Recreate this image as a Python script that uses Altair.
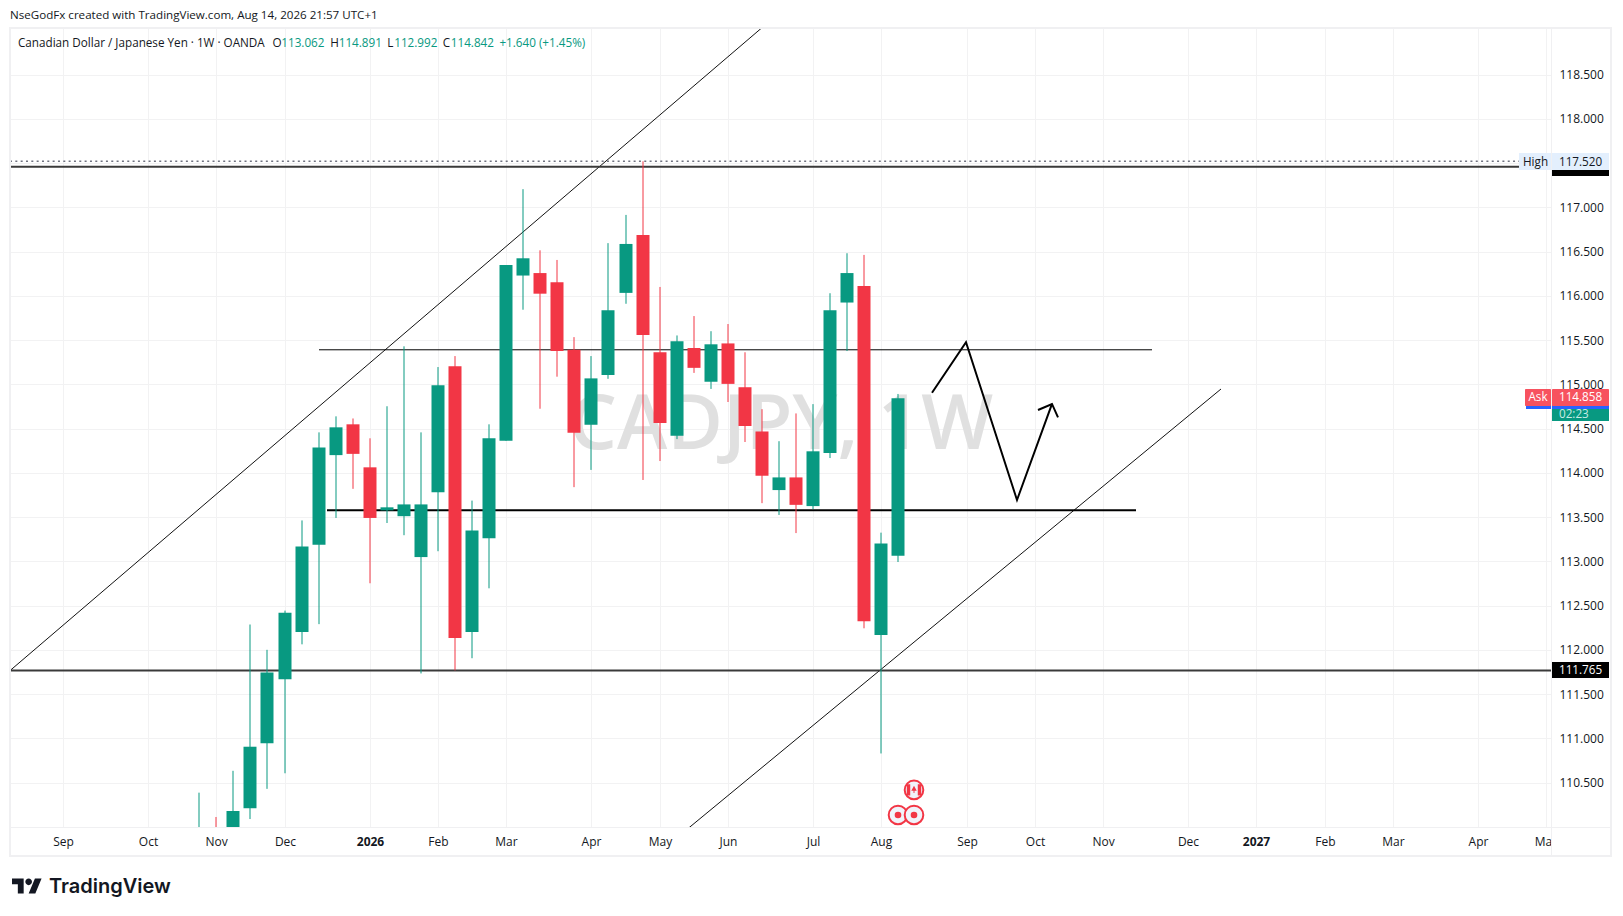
import altair as alt
import pandas as pd

# --- candles: week index (0 = first week of Aug 2026), open, high, low, close
WEEKS = list(range(-40, 2))
OPENS = [109.70, 109.95, 109.60, 110.210, 110.943, 111.667, 112.200, 113.186, 114.200, 114.548, 114.062, 113.576,
         113.510, 113.048, 113.781, 115.205, 112.200, 113.262, 114.362, 116.229, 116.257, 116.152, 115.390, 114.543,
         115.105, 116.033, 116.686, 115.362, 114.419, 115.410, 115.029, 115.462, 114.967, 114.467, 113.805, 113.948,
         113.624, 114.224, 115.924, 116.110, 112.167, 113.062]
HIGHS = [110.386, 110.111, 110.633, 112.286, 112.000, 112.443, 113.462, 114.457, 114.638, 114.614, 114.390, 114.752,
         115.429, 114.457, 115.195, 115.319, 113.686, 114.548, 116.348, 117.205, 116.514, 116.405, 115.533, 115.319,
         116.595, 116.914, 117.520, 116.100, 115.552, 115.771, 115.600, 115.681, 115.362, 114.719, 114.357, 114.671,
         114.776, 116.029, 116.481, 116.462, 113.324, 114.891]
LOWS = [109.50, 109.50, 109.50, 110.088, 110.429, 110.605, 112.062, 112.290, 113.490, 113.819, 112.752, 113.433,
        113.295, 111.733, 113.114, 111.767, 111.905, 112.695, 114.362, 115.843, 114.724, 115.086, 113.838, 114.033,
        115.062, 115.910, 113.919, 114.133, 114.381, 115.129, 114.948, 114.800, 114.348, 113.657, 113.524, 113.319,
        113.590, 114.167, 115.376, 112.243, 110.829, 112.992]
CLOSES = [109.85, 109.70, 110.179, 110.905, 111.743, 112.419, 113.167, 114.286, 114.514, 114.214, 113.490, 113.610,
          113.643, 113.643, 114.990, 112.133, 113.348, 114.390, 116.348, 116.424, 116.024, 115.376, 114.452, 115.067,
          115.838, 116.586, 115.557, 114.562, 115.486, 115.186, 115.452, 115.005, 114.529, 113.967, 113.948, 113.638,
          114.243, 115.838, 116.257, 112.324, 113.200, 114.842]

# --- axes
TICK_WEEKS = [-48, -43, -39, -35, -30, -26, -22, -17, -13, -9, -4, 0, 5, 9, 13, 18, 22, 26, 30, 35, 39]
TICK_LABELS = ["Sep", "Oct", "Nov", "Dec", "2026", "Feb", "Mar", "Apr", "May", "Jun", "Jul", "Aug", "Sep", "Oct",
               "Nov", "Dec", "2027", "Feb", "Mar", "Apr", "May"]
PRICE_TICKS = [110.5, 111.0, 111.5, 112.0, 112.5, 113.0, 113.5, 114.0, 114.5, 115.0, 115.5, 116.0, 116.5, 117.0,
               117.5, 118.0, 118.5]

# --- drawings (week index, price)
UPPER_TREND_W, UPPER_TREND_P = [-51.1, -7.0], [111.765, 119.03]
LOWER_TREND_W, LOWER_TREND_P = [-11.3, 19.92], [109.99, 114.947]
RES_W, RES_P = [-32.95, 15.9], [115.39, 115.39]
MID_W, MID_P = [-32.5, 14.95], [113.576, 113.576]
SUP_W, SUP_P = [-51.1, 39.28], [111.765, 111.765]
TOP_W, TOP_P = [-51.1, 37.4], [117.457, 117.457]
HIGH_W, HIGH_P = [-51.1, 37.4], [117.52, 117.52]
PATH_W = [2.97, 4.95, 7.96, 10.01]
PATH_P = [114.905, 115.475, 113.693, 114.778]
HEAD_W = [9.21, 10.01, 10.38]
HEAD_P = [114.71, 114.778, 114.627]
EVENT_W = [1.0, 1.94]
EVENT_P = [110.134, 110.134]
FLAG_W, FLAG_P = [1.94], [110.417]

GREEN, RED = "#089981", "#f23645"
INK = "#131722"
FONT = "Open Sans"
W, H = 1541, 799

xs = alt.Scale(domain=[-51.1, 39.28], nice=False, zero=False, round=True, padding=0)
ys = alt.Scale(domain=[109.998, 119.026], nice=False, zero=False)
label_expr = "{}[indexof({}, datum.value)]".format(TICK_LABELS, TICK_WEEKS)
x_axis = alt.Axis(values=TICK_WEEKS, labelExpr=label_expr, title=None, domain=False, ticks=False, labelPadding=9,
                  labelFontSize=12, labelColor=INK, labelFont=FONT, gridColor="#f2f2f3", gridWidth=1,
                  labelFontWeight={"condition": {"test": "datum.value == -30 || datum.value == 22", "value": "bold"},
                                   "value": "normal"},
                  labelOverlap=False, labelFlush=False)
y_axis = alt.Axis(values=PRICE_TICKS, orient="right", title=None, domain=False, ticks=False, labelPadding=8,
                  labelFontSize=12, labelColor=INK, labelFont=FONT, gridColor="#f2f2f3", gridWidth=1,
                  labelExpr="datum.value == 117.5 ? '' : format(datum.value, '.3f')", labelOverlap=False,
                  labelFlush=False)
X = alt.X("w:Q", scale=xs, axis=x_axis)
Y = alt.Y("p:Q", scale=ys, axis=y_axis)


def seg(ws, ps, color="#000000", width=1.0, dash=None, clip=True):
    d = pd.DataFrame({"w": ws, "p": ps, "o": range(len(ws))})
    kw = {"strokeDash": dash} if dash else {}
    return alt.Chart(d).mark_line(color=color, strokeWidth=width, clip=clip, interpolate="linear", **kw).encode(
        x=X, y=Y, order="o:Q")


def box(x0, x1, y0, y1, fill, corner=0):
    kw = {"cornerRadius": corner} if corner else {}
    return alt.Chart(alt.Data(values=[{}])).mark_rect(fill=fill, **kw).encode(
        x=alt.value(x0 - 10), x2=alt.value(x1 - 10), y=alt.value(y0 - 28), y2=alt.value(y1 - 28))


def txt(x, y, s, color=INK, size=11.7, weight="normal", font=FONT, align="left"):
    return alt.Chart(alt.Data(values=[{}])).mark_text(
        text=s, color=color, fontSize=size, fontWeight=weight, font=font, align=align, baseline="middle",
        clip=False).encode(x=alt.value(x - 10), y=alt.value(y - 28))


candles = pd.DataFrame({"w": WEEKS, "o": OPENS, "h": HIGHS, "l": LOWS, "c": CLOSES})
candles["color"] = [GREEN if c >= o else RED for o, c in zip(OPENS, CLOSES)]
color = alt.Color("color:N", scale=None, legend=None)
wicks = alt.Chart(candles).mark_rule(strokeWidth=1, clip=True).encode(
    x=X, y=alt.Y("h:Q", scale=ys, axis=y_axis), y2="l:Q", color=color)
bodies = alt.Chart(candles).mark_bar(size=13, clip=True).encode(
    x=X, y=alt.Y("o:Q", scale=ys, axis=y_axis), y2="c:Q", color=color)

watermark = txt(781, 426, "CADJPY, 1W", color="#e0e0e0", size=76, weight=600, align="center")

TV_PATH = ("M-.222 .5H-.611V-.111H-1V-.5H-.222Z M.556 .5H.111L.528 -.5H.972Z "
           "M-.111 -.278a.222 .222 0 1 0 .444 0a.222 .222 0 1 0 -.444 0Z")
logo = alt.Chart(alt.Data(values=[{}])).mark_point(shape=TV_PATH, size=900, filled=True, opacity=1, color=INK,
                                                   clip=False).encode(x=alt.value(27 - 10), y=alt.value(886 - 28))

events = pd.DataFrame({"w": EVENT_W, "p": EVENT_P})
flag = pd.DataFrame({"w": FLAG_W, "p": FLAG_P})
ring = alt.Chart(pd.concat([events, flag])).mark_point(shape="circle", size=346, filled=True, opacity=1,
                                                       fill="#f0f3fa", stroke=RED, strokeWidth=2, clip=False).encode(x=X, y=Y)
dots = alt.Chart(events).mark_point(shape="circle", size=44, filled=True, opacity=1, color=RED, clip=False).encode(x=X, y=Y)
FLAG_PATH = ("M-.8 -.62H-.42V.62H-.8Z M.42 -.62H.8V.62H.42Z M0 -.45L.3 .1L.05 .1V.35H-.05V.1L-.3 .1Z")
leaf = alt.Chart(flag).mark_point(shape=FLAG_PATH, size=324, filled=True, opacity=1, color=RED, clip=False).encode(x=X, y=Y)

layers = [
    watermark,
    seg(UPPER_TREND_W, UPPER_TREND_P, "#111111", 1.0),
    seg(LOWER_TREND_W, LOWER_TREND_P, "#111111", 1.0),
    seg(RES_W, RES_P, "#000000", 1.0),
    seg(MID_W, MID_P, "#000000", 2.0),
    seg(SUP_W, SUP_P, "#3a3a3a", 2.0),
    seg(TOP_W, TOP_P, "#3a3a3a", 2.0),
    seg(HIGH_W, HIGH_P, "#6f7280", 1.6, dash=[2, 3.33]),
    seg(PATH_W, PATH_P, "#000000", 2.0),
    seg(HEAD_W, HEAD_P, "#000000", 2.0),
    wicks, bodies, ring, dots, leaf,
    # x-axis label clip, frame and separators
    box(1551, 1611, 829, 855, "#ffffff"),
    box(1551, 1552, 28, 856, "#f0f0f2"),
    box(10, 1611, 827, 828, "#f0f0f2"),
    box(9, 11, 27, 857, "#f0f0f2"),
    box(9, 1612, 27, 29, "#f0f0f2"),
    box(1610, 1612, 27, 857, "#f0f0f2"),
    box(9, 1612, 855, 857, "#f0f0f2"),
    # price labels
    box(1552, 1609, 160, 176, "#000000"),
    box(1552, 1609, 153, 170, "#e3effd"),
    box(1519, 1551, 153, 170, "#e3effd"),
    txt(1523, 161.5, "High"),
    txt(1559, 161.5, "117.520"),
    box(1552, 1609, 662, 678, "#000000"),
    txt(1559, 670.3, "111.765", color="#ffffff"),
    box(1552, 1609, 406, 421, GREEN),
    txt(1559, 413.5, "02:23", color="#c8ebe4"),
    box(1526, 1551, 400, 409, "#2962ff"),
    box(1552, 1609, 400, 409, "#2962ff"),
    box(1525, 1551, 389, 406, "#f7525f", corner=1),
    box(1552, 1609, 389, 406, "#f7525f", corner=1),
    txt(1538, 397.2, "Ask", color="#ffffff", align="center"),
    txt(1559, 397.2, "114.858", color="#ffffff"),
    # header and legend text
    txt(10, 16, "NseGodFx created with TradingView.com, Aug 14, 2026 21:57 UTC+1", size=11.6),
    txt(18, 43, "Canadian Dollar / Japanese Yen · 1W · OANDA", size=11.7),
    txt(272.5, 43, "O"), txt(281.3, 43, "113.062", color=GREEN),
    txt(330.3, 43, "H"), txt(338.7, 43, "114.891", color=GREEN),
    txt(387.3, 43, "L"), txt(394.2, 43, "112.992", color=GREEN),
    txt(442.8, 43, "C"), txt(450.8, 43, "114.842", color=GREEN),
    txt(499.4, 43, "+1.640 (+1.45%)", color=GREEN),
    # footer
    logo,
    txt(49, 886.5, "TradingView", size=20, weight=600, font="Inter", color=INK),
]

chart = alt.layer(*layers).properties(
    width=W, height=H, background="#ffffff",
    padding={"left": 2, "top": 20, "right": 64, "bottom": 76},
    autosize=alt.AutoSizeParams(type="none"),
).configure_view(stroke=None)

chart.save("out.html", embed_options={"renderer": "svg", "actions": False})
